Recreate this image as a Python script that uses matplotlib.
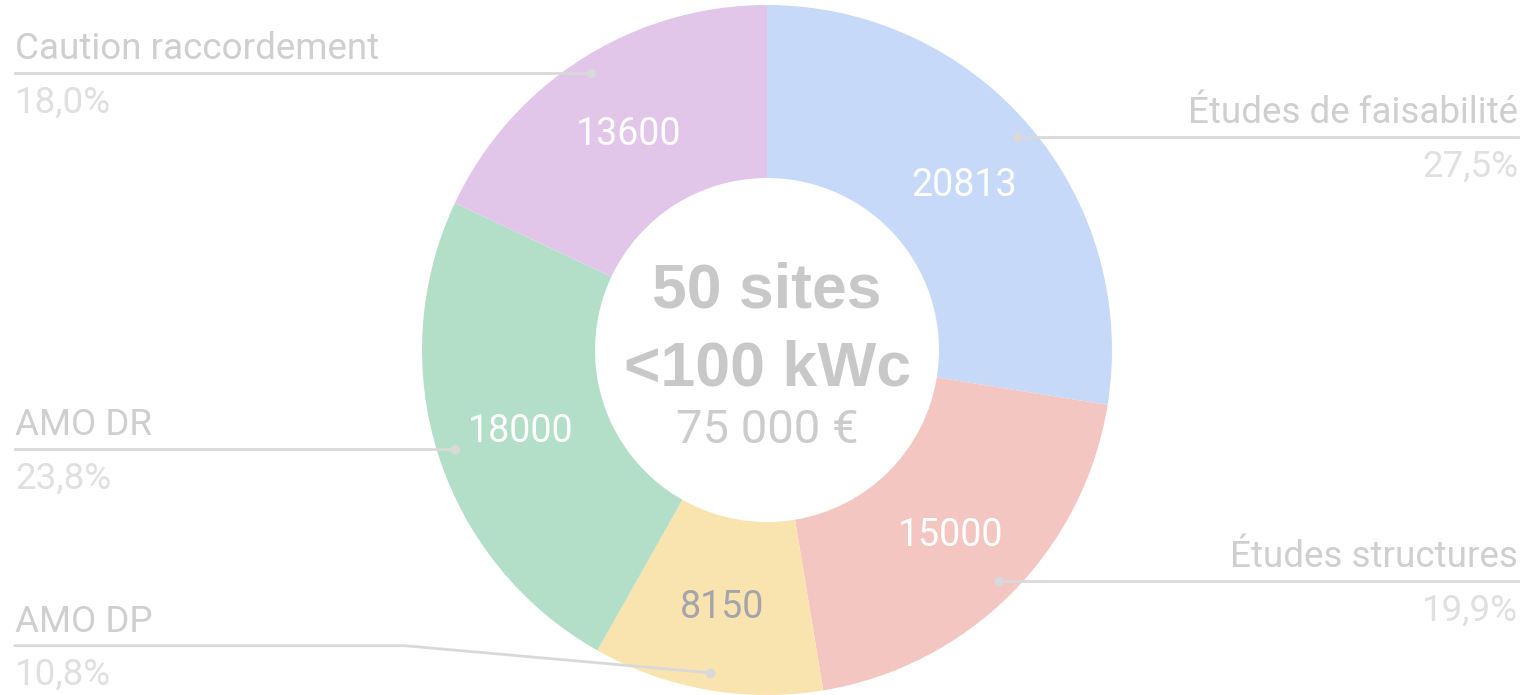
import numpy as np
import matplotlib.pyplot as plt

# slices, clockwise from 12 o'clock
labels = ["Études de faisabilité", "Études structures", "AMO DP", "AMO DR", "Caution raccordement"]
values = [20813, 15000, 8150, 18000, 13600]
colors = ["#c6d9f9", "#f4c6c2", "#f9e4af", "#b3dfc8", "#e2c6ea"]
value_colors = ["white", "white", "#a4a4aa", "white", "white"]
center_lines = ["50 sites", "<100 kWc", "75 000 €"]

W, H = 1528, 695
fig = plt.figure(figsize=(W / 100, H / 100), dpi=100)
ax = fig.add_axes([0, 0, 1, 1])

cx, cy, R, r_in = 767, 345, 345, 172
wedges, _ = ax.pie(values, colors=colors, startangle=90, counterclock=False,
                   center=(cx, cy), radius=R,
                   wedgeprops=dict(width=R - r_in, linewidth=0))
ax.set_xlim(0, W)
ax.set_ylim(0, H)
ax.set_aspect('equal')
ax.axis('off')

total = sum(values)
line_col = "#d9d9d9"
lab_col = "#cfcfcf"
pct_col = "#e0e0e0"
font = "Roboto"

for w, lab, v, vc in zip(wedges, labels, values, value_colors):
    mid = np.deg2rad((w.theta1 + w.theta2) / 2)
    # value inside the ring
    rm = (R + r_in) / 2
    ax.text(cx + rm * np.cos(mid), cy + rm * np.sin(mid) - 3, str(v),
            color=vc, fontsize=27, family=font, ha='center', va='center')
    # leader dot
    rd = 0.95 * R
    dx, dy = cx + rd * np.cos(mid), cy + rd * np.sin(mid)
    ax.plot(dx, dy, 'o', color=line_col, ms=6, zorder=5)
    pct = f"{v / total * 100:.1f}%".replace(".", ",")
    if dx > cx:
        ax.plot([dx, W - 10], [dy, dy], color=line_col, lw=2)
        xt, ha, row = W - 10, 'right', dy
    else:
        row = dy
        if dy < 30:
            # bottom label pushed up, line bends
            row = dy + 27
            ax.plot([15, 405, dx], [row, row, dy], color=line_col, lw=2)
        else:
            ax.plot([15, dx], [dy, dy], color=line_col, lw=2)
        xt, ha = 15, 'left'
    ax.text(xt, row + 14, lab, color=lab_col, fontsize=26.5, family=font,
            ha=ha, va='baseline')
    ax.text(xt, row - 39, pct, color=pct_col, fontsize=26.5, family=font,
            ha=ha, va='baseline')

ax.text(cx, H - 308, center_lines[0], color="#c8c8c8", fontsize=45,
        family="Liberation Sans", weight='bold', ha='center', va='baseline')
ax.text(cx, H - 385, center_lines[1], color="#c8c8c8", fontsize=45,
        family="Liberation Sans", weight='bold', ha='center', va='baseline')
ax.text(cx, H - 443, center_lines[2], color="#cccccc", fontsize=34,
        family=font, ha='center', va='baseline')

fig.savefig("out.png", dpi=100, facecolor="white")
